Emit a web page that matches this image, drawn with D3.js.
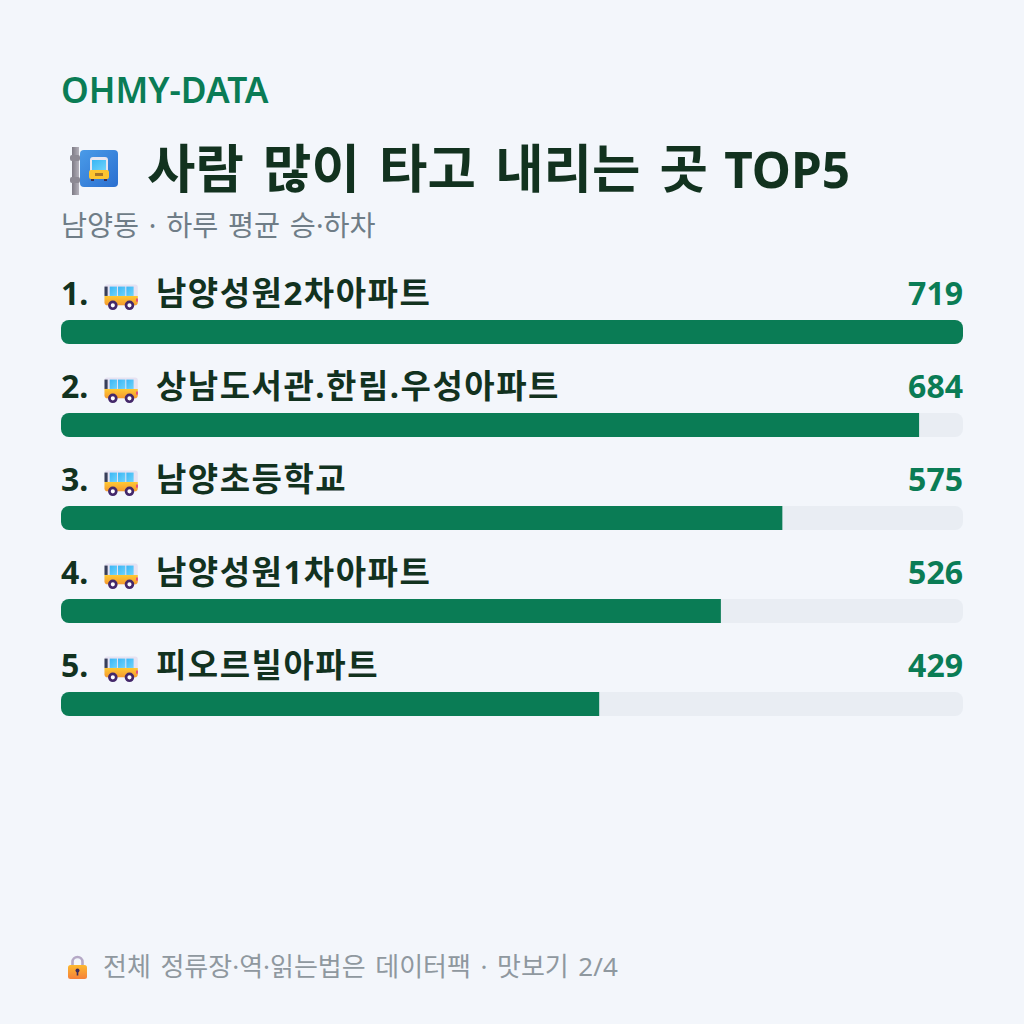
<!DOCTYPE html>
<html><head><meta charset="utf-8">
<script src="https://cdnjs.cloudflare.com/ajax/libs/d3/7.8.5/d3.min.js"></script>
<style>html,body{margin:0;background:#f3f6fb}svg{display:block}</style></head>
<body><svg id="c" width="1024" height="1024"><defs>
<linearGradient id="busBody" x1="0" y1="0" x2="0" y2="1"><stop offset="0" stop-color="#ffc933"/><stop offset="1" stop-color="#f59a2f"/></linearGradient>
<linearGradient id="glass" x1="0" y1="0" x2="1" y2="1"><stop offset="0" stop-color="#39b6f5"/><stop offset="1" stop-color="#6fd3fb"/></linearGradient>
<linearGradient id="tile" x1="0" y1="0" x2="1" y2="1"><stop offset="0" stop-color="#4a9be8"/><stop offset="1" stop-color="#2a6fd0"/></linearGradient>
<linearGradient id="pole" x1="0" y1="0" x2="1" y2="0"><stop offset="0" stop-color="#7d7a85"/><stop offset="1" stop-color="#b5b2bb"/></linearGradient>
<linearGradient id="lockBody" x1="0" y1="0" x2="0" y2="1"><stop offset="0" stop-color="#fdb92f"/><stop offset="1" stop-color="#f5803a"/></linearGradient>
</defs></svg>
<script>
const ranks=[1,2,3,4,5];
const stops=["남양성원2차아파트","상남도서관.한림.우성아파트","남양초등학교","남양성원1차아파트","피오르빌아파트"];
const riders=[719,684,575,526,429];
const svg=d3.select("#c");
const font="'Noto Sans','Noto Sans CJK KR',sans-serif";
const x=d3.scaleLinear().domain([0,719]).range([61,963]);
const y=d3.scaleBand().domain(ranks).range([274,739]).paddingInner(0);
const T=(s,px,py,size,fill,w)=>svg.append("text").attr("x",px).attr("y",py).attr("font-family",font).attr("font-size",size).attr("font-weight",w).attr("fill",fill).text(s);

// Side-view bus pictogram, origin at its top-left corner
function bus(g){
  g.append("rect").attr("x",0).attr("y",0).attr("width",32).attr("height",20).attr("rx",2.5).attr("fill","#e6e2f2");
  g.append("path").attr("d","M0 11H32V17a3 3 0 0 1-3 3H3a3 3 0 0 1-3-3Z").attr("fill","url(#busBody)");
  g.selectAll("rect.w").data([5,13,21]).join("rect").attr("class","w").attr("x",d=>d).attr("y",2).attr("width",7).attr("height",9).attr("fill","url(#glass)");
  g.append("rect").attr("x",0).attr("y",2).attr("width",3).attr("height",9).attr("fill","#38405a");
  g.append("rect").attr("x",30.5).attr("y",13.5).attr("width",1.5).attr("height",3).attr("fill","#e0358a");
  g.selectAll("circle").data([8,24]).join("circle").attr("cx",d=>d).attr("cy",20).attr("r",3.3).attr("fill","#fff").attr("stroke","#44286a").attr("stroke-width",2.6);
}
// Bus stop sign: pole plus a blue tile with a front-facing bus
function stopSign(g){
  g.append("rect").attr("x",0).attr("y",0).attr("width",7).attr("height",48).attr("fill","url(#pole)");
  g.selectAll("rect.c").data([8,30]).join("rect").attr("class","c").attr("x",-2).attr("y",d=>d).attr("width",10).attr("height",6).attr("rx",2).attr("fill","#8d8a94");
  g.append("rect").attr("x",8).attr("y",3).attr("width",38).attr("height",37).attr("rx",4).attr("fill","url(#tile)");
  g.append("rect").attr("x",18).attr("y",10).attr("width",18).attr("height",22).attr("rx",3).attr("fill","#e9e6f0");
  g.append("rect").attr("x",20).attr("y",13).attr("width",14).attr("height",10).attr("fill","url(#glass)");
  g.append("rect").attr("x",17).attr("y",23).attr("width",20).attr("height",9).attr("rx",2).attr("fill","#fcc430");
  g.append("rect").attr("x",23).attr("y",26).attr("width",8).attr("height",3).attr("fill","#a5762a");
  g.selectAll("rect.t").data([19,32]).join("rect").attr("class","t").attr("x",d=>d).attr("y",32).attr("width",3).attr("height",2).attr("fill","#3b2f55");
}
function lock(g){
  g.append("path").attr("d","M4.5 11V7a5 5 0 0 1 10 0V11").attr("fill","none").attr("stroke","#b5a9c6").attr("stroke-width",2.6);
  g.append("rect").attr("x",0).attr("y",10).attr("width",19).attr("height",14).attr("rx",2.5).attr("fill","url(#lockBody)");
  g.append("circle").attr("cx",9.5).attr("cy",15.5).attr("r",2).attr("fill","#3c2a5c");
  g.append("rect").attr("x",8.7).attr("y",16).attr("width",1.6).attr("height",4.5).attr("fill","#3c2a5c");
}

T("OHMY-DATA",61,103,35.3,"#0a7c55",600);
stopSign(svg.append("g").attr("transform","translate(72,147)"));

// Headline: Hangul runs set larger than the Latin tail
const title=T("",147,188,52.6,"#12321f",700).attr("word-spacing",5.6);
title.append("tspan").text("사람 많이 타고 내리는 곳 ");
title.append("tspan").attr("font-size",49.5).attr("dx",-3).text("TOP5");
T("남양동 · 하루 평균 승·하차",61,236,28.3,"#6f7d87",400).attr("word-spacing",2.4);

const row=svg.selectAll("g.row").data(ranks).join("g").attr("class","row").attr("transform",d=>`translate(0,${y(d)})`);
row.append("rect").attr("x",61).attr("y",46).attr("width",x(719)-61).attr("height",24).attr("rx",8).attr("fill","#e9edf3");
row.append("path").attr("fill","#0a7c55").attr("d",(d,i)=>{
  const w=x(riders[i]),r=8,full=riders[i]===719;
  const p=d3.path();
  p.moveTo(61+r,46);p.lineTo(full?w-r:w,46);
  if(full)p.arcTo(w,46,w,46+r,r);
  p.lineTo(w,full?70-r:70);
  if(full)p.arcTo(w,70,w-r,70,r);
  p.lineTo(61+r,70);p.arcTo(61,70,61,70-r,r);p.lineTo(61,46+r);p.arcTo(61,46,61+r,46,r);p.closePath();
  return p.toString();
});
row.append("text").attr("x",61).attr("y",31).attr("font-family",font).attr("font-size",32).attr("font-weight",700).attr("fill","#12321f").text(d=>d+".");
row.append("g").attr("transform","translate(104.5,10.5) scale(1.04)").each(function(){bus(d3.select(this));});
row.append("text").attr("x",156).attr("y",31).attr("font-family",font).attr("font-size",33).attr("letter-spacing",1.5).attr("font-weight",700).attr("fill","#12321f").text((d,i)=>stops[i]);
row.append("text").attr("x",963).attr("y",31).attr("text-anchor","end").attr("font-family",font).attr("font-size",32).attr("font-weight",700).attr("fill","#0a7c55").text((d,i)=>riders[i]);
lock(svg.append("g").attr("transform","translate(68,955)"));
T("전체 정류장·역·읽는법은 데이터팩 · 맛보기 2/4",103,976,26,"#8f989f",400).attr("word-spacing",2.8);
</script></body></html>
